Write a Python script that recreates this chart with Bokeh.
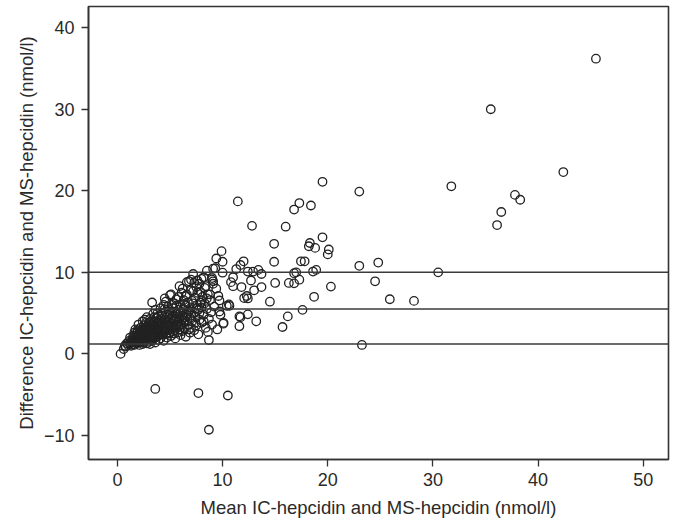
from bokeh.plotting import figure
from bokeh.models import Range1d, FixedTicker, ColumnDataSource, Span
from bokeh.embed import file_html
from bokeh.resources import INLINE

# Mean of the two methods (x) and difference IC - MS (y)
mean_vals = [
    0.3, 0.6, 0.8, 0.9, 1.0, 1.1, 0.7, 1.2,
    1.3, 1.4, 1.5, 1.5, 1.6, 1.7, 1.7, 1.8, 1.8, 1.9, 1.9, 2.0, 2.0, 2.0, 1.6, 1.2, 1.4,
    2.1, 2.1, 2.2, 2.2, 2.3, 2.3, 2.4, 2.4, 2.5, 2.5, 2.5, 2.6, 2.6, 2.7, 2.7, 2.8, 2.8, 2.8, 2.9, 2.9, 3.0, 3.0, 3.0, 2.2, 2.4,
    3.1, 3.1, 3.2, 3.2, 3.3, 3.3, 3.3, 3.4, 3.4, 3.5, 3.5, 3.5, 3.6, 3.6, 3.6, 3.7, 3.7, 3.8, 3.8, 3.8, 3.9, 3.9, 4.0, 4.0, 4.0, 3.2, 3.4,
    4.1, 4.1, 4.2, 4.2, 4.3, 4.3, 4.4, 4.4, 4.4, 4.5, 4.5, 4.5, 4.6, 4.6, 4.7, 4.7, 4.8, 4.8, 4.9, 4.9, 5.0, 5.0, 5.0, 4.6, 4.2,
    5.1, 5.1, 5.2, 5.2, 5.3, 5.3, 5.4, 5.4, 5.5, 5.5, 5.5, 5.6, 5.6, 5.7, 5.7, 5.8, 5.8, 5.9, 5.9, 5.9, 6.0, 6.0, 6.0, 5.2, 5.6,
    6.1, 6.1, 6.2, 6.2, 6.3, 6.3, 6.4, 6.4, 6.5, 6.5, 6.5, 6.6, 6.6, 6.7, 6.7, 6.8, 6.8, 6.9, 6.9, 7.0, 7.0, 7.0, 7.0, 6.2, 6.6,
    7.1, 7.1, 7.2, 7.2, 7.3, 7.3, 7.4, 7.4, 7.5, 7.5, 7.6, 7.6, 7.7, 7.7, 7.8, 7.8, 7.9, 7.9, 8.0, 8.0, 8.0, 7.3, 7.6,
    8.1, 8.2, 8.3, 8.3, 8.4, 8.4, 8.5, 8.5, 8.6, 8.7, 8.7, 8.8, 8.8, 8.9, 9.0, 9.0, 9.0, 9.1, 9.1, 9.1, 8.2, 8.6,
    9.2, 9.3, 9.4, 9.5, 9.6, 9.7, 9.8, 9.9, 10.0, 10.0, 10.06, 9.4, 9.7,
    10.4, 10.65, 10.6, 10.8, 11.0, 11.0, 11.3, 11.45, 11.6, 11.6, 11.7, 11.7, 11.8, 12.0, 12.05, 12.3, 12.4, 12.4, 12.4,
    12.7, 12.8, 12.9, 13.0, 13.2, 13.4, 13.7, 13.7, 10.5, 10.1,
    14.5, 14.9, 14.9, 15.0, 15.7, 16.0, 16.2, 16.3, 16.8, 16.8, 16.8, 17.0, 17.3, 17.3, 17.45, 17.6, 17.8,
    18.2, 18.3, 18.4, 18.6, 18.7, 18.8, 18.9, 19.5, 19.5, 20.0, 20.1, 20.3,
    23.0, 23.0, 23.25, 24.5, 24.8, 25.9, 28.2, 30.5, 31.75, 35.5, 36.1, 36.5, 37.8, 38.3, 42.4, 45.5,
    3.6, 7.7, 8.7,
    # denser core of the cloud
    1.3, 1.5, 1.6, 1.8, 1.9, 2.0, 2.1, 2.2, 2.3, 2.3, 2.4, 2.5, 2.6, 2.6, 2.7, 2.7, 2.8, 2.9, 2.9, 3.0,
    3.0, 3.1, 3.1, 3.2, 3.2, 3.3, 3.3, 3.4, 3.5, 3.5, 3.6, 3.6, 3.7, 3.7, 3.8, 3.9, 3.9, 4.0, 4.1, 4.1,
    4.2, 4.3, 4.3, 4.4, 4.5, 4.5, 4.6, 4.7, 4.7, 4.8, 4.8, 4.9, 5.0, 5.0, 5.1, 5.2, 5.3, 5.3, 5.4, 5.5,
    5.6, 5.7, 5.8, 5.8, 6.0, 6.1, 6.2, 6.3, 6.4, 6.5, 6.7, 6.8, 7.0, 7.2, 7.4, 7.5, 7.8, 8.0, 8.2, 8.5,
]
diff_vals = [
    0.0, 0.6, 0.9, 1.3, 1.1, 1.6, 1.0, 1.3,
    1.0, 1.8, 2.2, 1.2, 1.5, 2.0, 3.0, 1.3, 2.5, 1.8, 2.9, 1.4, 2.2, 3.6, 2.6, 2.0, 1.4,
    1.1, 2.7, 1.9, 3.2, 1.5, 2.4, 4.0, 1.2, 2.9, 3.5, 2.0, 4.2, 1.6, 2.6, 3.3, 1.3, 2.2, 4.5, 3.0, 1.9, 2.5, 3.8, 1.5, 2.8, 3.0,
    1.2, 4.3, 2.8, 2.0, 6.3, 3.4, 1.6, 4.9, 2.4, 3.0, 3.9, 1.9, 5.4, 2.6, 1.4, 4.4, 3.2, 2.1, 3.7, 5.0, 2.8, 1.7, 4.1, 3.3, 2.3, 3.6, 2.0,
    5.6, 1.9, 2.9, 3.8, 4.7, 2.4, 6.0, 3.4, 1.6, 6.8, 4.2, 2.7, 3.1, 5.2, 2.0, 4.5, 3.6, 5.8, 2.5, 4.0, 3.0, 5.0, 7.2, 6.4, 5.0,
    7.3, 2.2, 4.4, 3.5, 5.6, 2.8, 6.2, 4.0, 3.2, 5.0, 1.9, 6.7, 4.6, 2.6, 3.8, 5.4, 7.0, 8.3, 3.0, 4.3, 6.0, 2.3, 5.0, 6.0, 5.9,
    3.6, 7.5, 4.7, 2.8, 6.6, 5.5, 3.2, 4.1, 7.1, 5.9, 2.1, 8.8, 4.8, 3.6, 6.3, 5.2, 8.9, 2.6, 4.4, 7.8, 9.1, 5.7, 3.2, 8.0, 7.3,
    6.5, 4.0, 9.8, 7.7, 2.9, 5.1, 6.9, 4.6, 8.2, 3.5, 6.0, 7.5, 5.4, 2.4, 4.2, 8.6, 7.6, 6.3, 3.8, 5.7, 9.2, 8.7, 9.0,
    7.0, 4.8, 6.2, 8.1, 8.3, 3.2, 10.2, 5.5, 7.3, 1.7, 4.3, 7.3, 6.6, 5.1, 9.3, 9.1, 3.6, 8.9, 8.6, 10.45, 9.4, 2.7,
    5.8, 10.5, 11.7, 3.0, 7.1, 6.55, 4.8, 12.6, 11.3, 9.96, 3.7, 8.0, 5.2,
    5.9, 5.9, 6.07, 8.8, 9.4, 8.3, 10.4, 18.7, 4.6, 3.4, 10.9, 4.5, 8.2, 11.35, 6.85, 7.1, 6.8, 4.85, 10.1,
    9.0, 15.7, 10.1, 7.8, 4.0, 10.3, 9.8, 8.2, -5.1, 3.8,
    6.4, 13.5, 11.3, 8.7, 3.3, 15.6, 4.6, 8.7, 8.65, 17.7, 9.9, 10.0, 18.5, 9.1, 11.35, 5.4, 11.35,
    13.2, 13.6, 18.2, 10.1, 7.0, 13.0, 10.3, 21.1, 14.3, 12.2, 12.8, 8.25,
    19.9, 10.8, 1.1, 8.9, 11.2, 6.7, 6.5, 10.0, 20.55, 30.0, 15.8, 17.4, 19.5, 18.9, 22.3, 36.2,
    -4.3, -4.8, -9.3,
    # denser core of the cloud
    1.5, 1.7, 1.1, 2.0, 2.3, 1.8, 1.5, 2.2, 2.9, 1.8, 2.6, 1.4, 2.3, 3.0, 1.9, 3.8, 2.7, 2.4, 3.5, 2.0,
    3.2, 2.6, 3.1, 1.8, 4.0, 2.2, 2.9, 3.6, 2.3, 4.5, 3.4, 2.0, 2.5, 3.9, 2.9, 3.4, 4.6, 2.7, 3.6, 2.4,
    4.3, 3.1, 3.9, 2.8, 3.6, 5.5, 2.4, 3.3, 3.9, 2.9, 4.8, 3.4, 4.3, 2.6, 3.8, 5.2, 3.2, 4.7, 2.5, 4.3,
    3.5, 5.0, 3.3, 4.0, 3.6, 4.2, 5.4, 3.9, 6.1, 4.5, 5.0, 3.0, 4.7, 6.2, 3.8, 5.6, 5.0, 6.5, 4.0, 6.8,
]

# Bland-Altman reference lines: upper limit, mean difference, lower limit
ref_lines = [10.0, 5.5, 1.2]

x_ticks = [0, 10, 20, 30, 40, 50]
y_ticks = [-10, 0, 10, 20, 30, 40]
y_tick_labels = {-10: "\u221210", 0: "0", 10: "10", 20: "20", 30: "30", 40: "40"}

x_label = "Mean IC-hepcidin and MS-hepcidin (nmol/l)"
y_label = "Difference IC-hepcidin and MS-hepcidin (nmol/l)"

FONT = "Liberation Sans"
INK = "#2a2a2a"

p = figure(
    output_backend="svg", toolbar_location=None,
    frame_width=580, frame_height=453,
    min_border_left=88, min_border_right=4, min_border_top=6, min_border_bottom=62,
    x_range=Range1d(-2.75, 52.4), y_range=Range1d(-12.95, 42.6),
    background_fill_color="white", border_fill_color="white",
)
p.grid.visible = False
p.outline_line_color = "#333333"
p.outline_line_width = 1.6
p.outline_line_alpha = 1.0

for v in ref_lines:
    p.add_layout(Span(location=v, dimension="width", line_color="#3a3a3a", line_width=1.5))

src = ColumnDataSource(data=dict(x=mean_vals, y=diff_vals))
p.scatter("x", "y", source=src, marker="circle", size=8.5,
          fill_color=None, line_color="#222222", line_width=1.3)

p.xaxis.ticker = FixedTicker(ticks=x_ticks)
p.yaxis.ticker = FixedTicker(ticks=y_ticks)
p.yaxis.major_label_overrides = y_tick_labels
p.xaxis.axis_label = x_label
p.yaxis.axis_label = y_label

for ax in (p.xaxis, p.yaxis):
    ax.axis_line_color = "#333333"
    ax.axis_line_width = 1.6
    ax.major_tick_line_color = "#333333"
    ax.major_tick_line_width = 1.3
    ax.major_tick_out = 7
    ax.major_tick_in = 0
    ax.minor_tick_line_color = None
    ax.major_label_text_font = FONT
    ax.major_label_text_font_size = "18px"
    ax.major_label_text_color = INK
    ax.axis_label_text_font = FONT
    ax.axis_label_text_font_size = "18.5px"
    ax.axis_label_text_font_style = "normal"
    ax.axis_label_text_color = INK

p.xaxis.major_label_standoff = 6
p.xaxis.axis_label_standoff = 8
p.yaxis.major_label_standoff = 7
p.yaxis.axis_label_standoff = 4

open("out.html", "w").write(file_html(p, INLINE))
